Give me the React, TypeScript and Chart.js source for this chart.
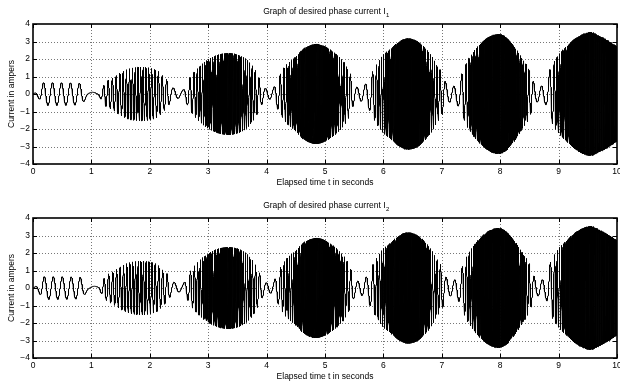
import React, { useEffect, useRef } from 'react';
import { Chart, registerables } from 'chart.js';

Chart.register(...registerables);

// ---------- data ----------
const xTickValues = [0, 1, 2, 3, 4, 5, 6, 7, 8, 9, 10];
const yTickValues = [-4, -3, -2, -1, 0, 1, 2, 3, 4];

// amplitude envelope of the desired phase current (A)
const envTimes = [
  0.0, 0.05, 0.1, 0.18, 0.8, 0.88, 0.95, 1.1, 1.18, 1.25, 1.37, 1.49, 1.6, 1.72, 1.86, 2.0, 2.15, 2.23, 2.3,
  2.36, 2.45, 2.55, 2.63, 2.7, 2.8, 2.9, 3.0, 3.1, 3.2, 3.35, 3.5, 3.6, 3.66, 3.74, 3.8, 3.86, 3.92, 4.0, 4.1,
  4.18, 4.26, 4.34, 4.45, 4.51, 4.6, 4.7, 4.85, 5.0, 5.09, 5.2, 5.29, 5.37, 5.43, 5.48, 5.55, 5.65, 5.74, 5.8,
  5.88, 6.0, 6.11, 6.25, 6.42, 6.6, 6.74, 6.83, 6.91, 6.97, 7.02, 7.08, 7.2, 7.3, 7.37, 7.45, 7.57, 7.65, 7.8,
  7.97, 8.1, 8.17, 8.28, 8.37, 8.45, 8.51, 8.56, 8.65, 8.78, 8.85, 8.94, 9.02, 9.14, 9.3, 9.55, 9.71, 9.8, 10.0,
];
const envAmps = [
  0.0, 0.1, 0.25, 0.65, 0.62, 0.4, 0.12, 0.1, 0.35, 0.7, 0.93, 1.2, 1.39, 1.5, 1.54, 1.49, 1.29, 1.0, 0.8,
  0.45, 0.3, 0.2, 0.55, 1.0, 1.4, 1.72, 1.96, 2.15, 2.27, 2.34, 2.25, 2.1, 1.96, 1.67, 1.39, 1.0, 0.6, 0.3, 0.3,
  0.8, 1.3, 1.67, 2.0, 2.15, 2.5, 2.72, 2.86, 2.72, 2.53, 2.25, 1.96, 1.58, 1.2, 0.7, 0.4, 0.45, 0.8, 1.2,
  1.67, 2.25, 2.53, 2.95, 3.18, 2.98, 2.53, 2.15, 1.67, 1.39, 1.1, 0.6, 0.45, 0.8, 1.4, 1.96, 2.53, 2.82, 3.25,
  3.43, 3.25, 3.0, 2.53, 2.05, 1.67, 1.29, 0.8, 0.45, 0.6, 1.4, 1.96, 2.34, 2.72, 3.2, 3.54, 3.3, 3.15, 2.72,
];

// apparent oscillation rate (cycles per second)
const freqTimes = [
  0, 0.85, 0.92, 1.12, 1.2, 1.87, 2.3, 2.38, 2.6, 2.68, 3.35, 3.88, 3.95, 4.15, 4.22, 4.85, 5.45, 5.5, 5.75,
  5.82, 6.42, 7.0, 7.06, 7.3, 7.37, 7.97, 8.53, 8.6, 8.83, 8.88, 9.55, 10,
];
const freqHz = [
  6.5, 6.5, 3, 3, 12, 23, 12, 6, 6, 12, 50, 12, 7, 7, 12, 65, 12, 7, 7, 12, 75, 12, 7, 7, 12, 85, 12, 7, 7,
  12, 95, 70,
];

const phaseOffsets = [0.5, -0.1]; // I1, I2
const titleMain = 'Graph of desired phase current I';
const titleSubs = ['1', '2'];
const xLabel = 'Elapsed time t in seconds';
const yLabel = 'Current in ampers';
const tStart = 0;
const tEnd = 10;
const sampleStep = 0.0005;

// ---------- helpers ----------
const FONT = '"Liberation Sans", Arial, Helvetica, sans-serif';
const FS = 8.5;

function interp(ts: number[], vs: number[], t: number): number {
  if (t <= ts[0]) return vs[0];
  for (let i = 1; i < ts.length; i++) {
    if (t <= ts[i]) {
      const f = (t - ts[i - 1]) / (ts[i] - ts[i - 1]);
      return vs[i - 1] + f * (vs[i] - vs[i - 1]);
    }
  }
  return vs[vs.length - 1];
}

// monotone cubic (Fritsch–Carlson) for a smooth envelope through the read-off points
function makeMonotone(ts: number[], vs: number[]) {
  const n = ts.length;
  const d: number[] = [];
  for (let i = 0; i < n - 1; i++) d.push((vs[i + 1] - vs[i]) / (ts[i + 1] - ts[i]));
  const m: number[] = new Array(n);
  m[0] = d[0];
  m[n - 1] = d[n - 2];
  for (let i = 1; i < n - 1; i++) {
    if (d[i - 1] * d[i] <= 0) m[i] = 0;
    else m[i] = (d[i - 1] + d[i]) / 2;
  }
  for (let i = 0; i < n - 1; i++) {
    if (d[i] === 0) {
      m[i] = 0;
      m[i + 1] = 0;
      continue;
    }
    const a = m[i] / d[i];
    const b = m[i + 1] / d[i];
    const s = a * a + b * b;
    if (s > 9) {
      const tau = 3 / Math.sqrt(s);
      m[i] = tau * a * d[i];
      m[i + 1] = tau * b * d[i];
    }
  }
  return (t: number) => {
    if (t <= ts[0]) return vs[0];
    if (t >= ts[n - 1]) return vs[n - 1];
    let i = 1;
    while (ts[i] < t) i++;
    const h = ts[i] - ts[i - 1];
    const u = (t - ts[i - 1]) / h;
    const h00 = 2 * u * u * u - 3 * u * u + 1;
    const h10 = u * u * u - 2 * u * u + u;
    const h01 = -2 * u * u * u + 3 * u * u;
    const h11 = u * u * u - u * u;
    return h00 * vs[i - 1] + h10 * h * m[i - 1] + h01 * vs[i] + h11 * h * m[i];
  };
}

function buildSeries(offset: number) {
  const env = makeMonotone(envTimes, envAmps);
  const pts: { x: number; y: number }[] = [];
  let phase = offset;
  const n = Math.round((tEnd - tStart) / sampleStep);
  for (let i = 0; i <= n; i++) {
    const t = tStart + i * sampleStep;
    pts.push({ x: t, y: env(t) * Math.sin(phase) });
    phase += 2 * Math.PI * interp(freqTimes, freqHz, t) * sampleStep;
  }
  return pts;
}

const fmt = (v: number) => (v < 0 ? '\u2212' + Math.abs(v) : String(v));

function decorPlugin(sub: string) {
  return {
    id: 'decor' + sub,
    beforeDatasetsDraw(chart: any) {
      const { ctx, chartArea: a, scales } = chart;
      ctx.save();
      ctx.strokeStyle = '#777';
      ctx.lineWidth = 1;
      ctx.setLineDash([1, 2]);
      for (const v of xTickValues) {
        if (v === xTickValues[0] || v === xTickValues[xTickValues.length - 1]) continue;
        const x = Math.round(scales.x.getPixelForValue(v)) + 0.5;
        ctx.beginPath();
        ctx.moveTo(x, a.top);
        ctx.lineTo(x, a.bottom);
        ctx.stroke();
      }
      for (const v of yTickValues) {
        if (v === yTickValues[0] || v === yTickValues[yTickValues.length - 1]) continue;
        const y = Math.round(scales.y.getPixelForValue(v)) + 0.5;
        ctx.beginPath();
        ctx.moveTo(a.left, y);
        ctx.lineTo(a.right, y);
        ctx.stroke();
      }
      ctx.restore();
    },
    afterDraw(chart: any) {
      const { ctx, chartArea: a, scales } = chart;
      ctx.save();
      ctx.setLineDash([]);
      ctx.strokeStyle = '#000';
      ctx.lineWidth = 1;
      const tl = 4;
      for (const v of xTickValues) {
        const x = Math.round(scales.x.getPixelForValue(v)) + 0.5;
        ctx.beginPath();
        ctx.moveTo(x, a.top);
        ctx.lineTo(x, a.top + tl);
        ctx.moveTo(x, a.bottom);
        ctx.lineTo(x, a.bottom - tl);
        ctx.stroke();
      }
      for (const v of yTickValues) {
        const y = Math.round(scales.y.getPixelForValue(v)) + 0.5;
        ctx.beginPath();
        ctx.moveTo(a.left, y);
        ctx.lineTo(a.left + tl, y);
        ctx.moveTo(a.right, y);
        ctx.lineTo(a.right - tl, y);
        ctx.stroke();
      }
      ctx.lineWidth = 1.6;
      ctx.strokeRect(a.left, a.top, a.right - a.left, a.bottom - a.top);

      ctx.fillStyle = '#000';
      const cx = (a.left + a.right) / 2;
      ctx.font = `${FS}px ${FONT}`;
      const wMain = ctx.measureText(titleMain).width;
      ctx.font = `6px ${FONT}`;
      const wSub = ctx.measureText(sub).width;
      const x0 = cx - (wMain + wSub) / 2 + 1;
      ctx.textBaseline = 'middle';
      ctx.textAlign = 'left';
      ctx.font = `${FS}px ${FONT}`;
      ctx.fillText(titleMain, x0, 12);
      ctx.font = `6px ${FONT}`;
      ctx.fillText(sub, x0 + wMain + 0.5, 15);

      ctx.font = `${FS}px ${FONT}`;
      ctx.textAlign = 'center';
      ctx.fillText(xLabel, cx, a.bottom + 18.5);

      ctx.translate(12, (a.top + a.bottom) / 2);
      ctx.rotate(-Math.PI / 2);
      ctx.fillText(yLabel, 0, 0);
      ctx.restore();
    },
  };
}

function Panel({ index, height }: { index: number; height: number }) {
  const ref = useRef<HTMLCanvasElement | null>(null);
  useEffect(() => {
    if (!ref.current) return;
    const points = buildSeries(phaseOffsets[index]);
    const chart = new Chart(ref.current, {
      type: 'line',
      data: {
        datasets: [
          {
            label: 'I' + titleSubs[index],
            data: points,
            borderColor: '#000',
            borderWidth: 1,
            pointRadius: 0,
            fill: false,
            tension: 0,
          },
        ],
      },
      options: {
        animation: false,
        responsive: false,
        devicePixelRatio: 1,
        parsing: false,
        normalized: true,
        events: [],
        layout: { padding: { left: 0, right: 3, top: 24, bottom: 0 } },
        plugins: { legend: { display: false }, title: { display: false }, tooltip: { enabled: false } },
        scales: {
          x: {
            type: 'linear',
            min: 0,
            max: 10,
            grid: { display: false, drawTicks: false },
            border: { display: false },
            afterBuildTicks: (s: any) => {
              s.ticks = xTickValues.map((v) => ({ value: v }));
            },
            afterFit: (s: any) => {
              s.height = height - 164;
              s.paddingLeft = 0;
              s.paddingRight = 0;
            },
            ticks: {
              padding: 3,
              maxRotation: 0,
              autoSkip: false,
              color: '#000',
              font: { family: FONT, size: FS },
              callback: (v: any) => fmt(Number(v)),
            },
          },
          y: {
            type: 'linear',
            min: -4,
            max: 4,
            grid: { display: false, drawTicks: false },
            border: { display: false },
            afterBuildTicks: (s: any) => {
              s.ticks = yTickValues.map((v) => ({ value: v }));
            },
            afterFit: (s: any) => {
              s.width = 33;
              s.paddingTop = 0;
              s.paddingBottom = 0;
            },
            ticks: {
              padding: 3,
              autoSkip: false,
              color: '#000',
              font: { family: FONT, size: FS },
              callback: (v: any) => fmt(Number(v)),
            },
          },
        },
      },
      plugins: [decorPlugin(titleSubs[index])],
    } as any);
    return () => chart.destroy();
  }, [index, height]);
  return <canvas ref={ref} width={620} height={height} style={{ display: 'block', width: 620, height }} />;
}

export default function App() {
  useEffect(() => {
    document.body.style.margin = '0';
    document.body.style.background = '#fff';
  }, []);
  return (
    <div style={{ width: 620, height: 383, background: '#fff' }}>
      <Panel index={0} height={194} />
      <Panel index={1} height={189} />
    </div>
  );
}
